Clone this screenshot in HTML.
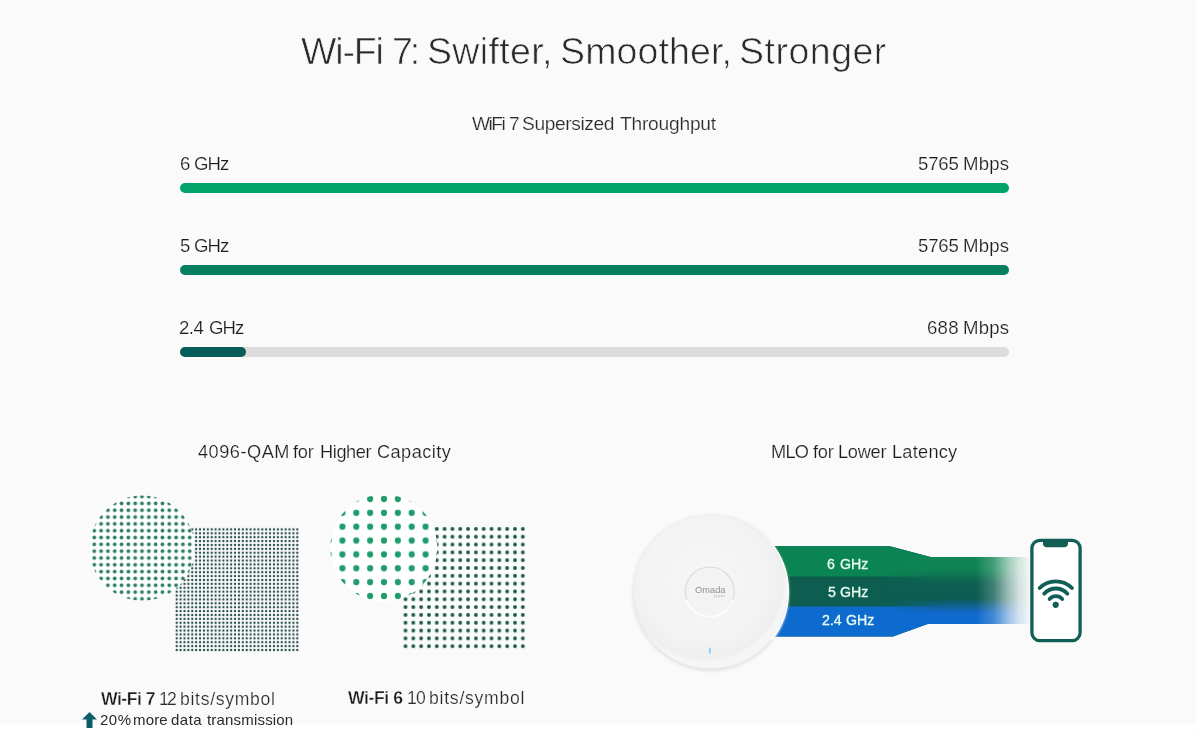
<!DOCTYPE html>
<html><head><meta charset="utf-8">
<style>
html,body{margin:0;padding:0}
body{width:1198px;height:736px;overflow:hidden;background:#fafafa;position:relative;font-family:"Liberation Sans",sans-serif;color:#222}
.abs{position:absolute}
.t{position:absolute;white-space:nowrap;line-height:1;will-change:transform}
.bl{-webkit-text-stroke:0.3px #e8fcf1}
.thin{-webkit-text-stroke:0.7px #fafafa}
.thin2{-webkit-text-stroke:0.2px #fafafa}
.thinb{-webkit-text-stroke:0.3px #fafafa}
.bar{position:absolute;left:180px;width:829px;height:10px;border-radius:5px}
</style></head><body>
<div class="abs" style="left:0;top:724px;width:1198px;height:12px;background:#fff"></div>
<div class="abs" style="left:1196px;top:0;width:2px;height:736px;background:#fdfdfd"></div>
<div class="bar" style="top:183px;background:#02a46b"></div>
<div class="bar" style="top:265px;background:#057f60"></div>
<div class="bar" style="top:347px;background:#dcdcdc"></div>
<div class="bar" style="top:347px;width:66px;background:#065c58"></div>
<svg class="abs" width="1198" height="736" viewBox="0 0 1198 736" style="left:0;top:0">
<defs>
<pattern id="p7s" patternUnits="userSpaceOnUse" x="174.755" y="527.455" width="3.89" height="3.89"><circle cx="1.945" cy="1.945" r="1.15" fill="#214d47"/></pattern>
<pattern id="p7c" patternUnits="userSpaceOnUse" x="90.850" y="493.190" width="6.82" height="6.82"><circle cx="3.41" cy="3.41" r="1.9" fill="#2f8062"/></pattern>
<pattern id="p6s" patternUnits="userSpaceOnUse" x="401.59" y="524.99" width="7.82" height="7.82"><circle cx="3.91" cy="3.91" r="1.9" fill="#1a574b"/></pattern>
<pattern id="p6c" patternUnits="userSpaceOnUse" x="321.630" y="492.060" width="13.86" height="13.86"><circle cx="6.93" cy="6.93" r="3.1" fill="#1f9c6c"/></pattern>
</defs>
<rect x="174.755" y="527.455" width="124.48" height="124.48" fill="url(#p7s)"/>
<circle cx="142.2" cy="548.2" r="52.6" fill="#fff"/>
<circle cx="142.2" cy="548.2" r="52.6" fill="url(#p7c)"/>
<rect x="401.59" y="524.99" width="125.12" height="125.12" fill="url(#p6s)"/>
<circle cx="383.8" cy="547.9" r="53.5" fill="#fff"/>
<circle cx="383.8" cy="547.9" r="53.5" fill="url(#p6c)"/>
</svg>
<svg class="abs" style="left:82px;top:712px" width="15" height="16" viewBox="0 0 15 16"><path d="M7.5 0 L15 7.5 L10.5 7.5 L10.5 16 L4.5 16 L4.5 7.5 L0 7.5 Z" fill="#0e5c68"/></svg>
<svg class="abs" width="1198" height="736" viewBox="0 0 1198 736" style="left:0;top:0;will-change:transform">
<defs>
<linearGradient id="fade" gradientUnits="userSpaceOnUse" x1="976" y1="0" x2="1030" y2="0">
<stop offset="0" stop-color="#fff" stop-opacity="1"/><stop offset="0.33" stop-color="#fff" stop-opacity="0.78"/><stop offset="0.58" stop-color="#fff" stop-opacity="0.42"/><stop offset="0.8" stop-color="#fff" stop-opacity="0.16"/><stop offset="1" stop-color="#fff" stop-opacity="0.03"/>
</linearGradient>
<mask id="fm" maskUnits="userSpaceOnUse" x="0" y="0" width="1198" height="736"><rect x="760" y="530" width="280" height="120" fill="url(#fade)"/></mask>
<linearGradient id="vg" gradientUnits="userSpaceOnUse" x1="0" y1="557.3" x2="0" y2="624">
<stop offset="0" stop-color="#0f8655"/><stop offset="0.18" stop-color="#0f8254"/><stop offset="0.38" stop-color="#0d6151"/><stop offset="0.62" stop-color="#0c5b52"/><stop offset="0.84" stop-color="#1169cc"/><stop offset="1" stop-color="#0d6bcf"/>
</linearGradient>
<linearGradient id="hg" gradientUnits="userSpaceOnUse" x1="880" y1="0" x2="945" y2="0">
<stop offset="0" stop-color="#fff" stop-opacity="0"/><stop offset="1" stop-color="#fff" stop-opacity="1"/>
</linearGradient>
<mask id="hm" maskUnits="userSpaceOnUse" x="0" y="0" width="1198" height="736"><rect x="870" y="540" width="170" height="100" fill="url(#hg)"/></mask>
<radialGradient id="apg" cx="0.5" cy="0.45" r="0.55">
<stop offset="0" stop-color="#fbfbfb"/><stop offset="0.85" stop-color="#f3f3f3"/><stop offset="1" stop-color="#ececec"/>
</radialGradient>
<radialGradient id="apg2" gradientUnits="userSpaceOnUse" cx="705" cy="580" r="82">
<stop offset="0" stop-color="#f6f6f6"/><stop offset="0.75" stop-color="#f3f3f3"/><stop offset="0.95" stop-color="#efefef"/><stop offset="1" stop-color="#f5f5f5"/>
</radialGradient>
<filter id="apblur" x="-20%" y="-20%" width="140%" height="140%"><feGaussianBlur stdDeviation="1.8"/></filter>
</defs>
<g mask="url(#fm)">
<path d="M760 546.3 H890 L931.5 557.3 H1030 V624 H927.7 L893 636.4 H760 Z" fill="#0d5e50"/>
<path d="M760 546.3 H890 L931.5 557.3 H1030 V576.6 H760 Z" fill="#0b8453"/>
<path d="M760 606.4 H1030 V624 H927.7 L893 636.4 H760 Z" fill="#0d6bcf"/>
<rect x="875" y="557.3" width="155" height="66.7" fill="url(#vg)" mask="url(#hm)"/>
</g>
<circle cx="710.5" cy="593" r="78.2" fill="#e4e4e4" filter="url(#apblur)"/>
<circle cx="710.5" cy="591.8" r="76.8" fill="url(#apg2)"/>
<path d="M770.84 543 A77.6 77.6 0 0 1 771.32 640" fill="none" stroke="#fbfbfb" stroke-width="2"/>
<circle cx="709.8" cy="591.6" r="24.5" fill="#f3f3f3"/>
<path d="M686.8 600 A24.5 24.5 0 1 1 732.8 600" fill="none" stroke="#d9d9d9" stroke-width="1.1" stroke-linecap="round"/>
<path d="M732.8 600.5 A24.5 24.5 0 0 1 686.8 600.5" fill="none" stroke="#fdfdfd" stroke-width="1.8" stroke-linecap="round"/>
<text x="710.3" y="592.6" font-family="Liberation Sans" font-size="9.3" fill="#909090" text-anchor="middle">Omada</text>
<text x="719.5" y="596.8" font-family="Liberation Sans" font-size="2.6" fill="#b0b0b0" text-anchor="middle">by tp-link</text>
<rect x="708.9" y="647.5" width="1.8" height="6.5" rx="0.9" fill="#86cff0"/>
<rect x="1031.9" y="540.3" width="48.2" height="100.4" rx="8" fill="#fff" stroke="#105e55" stroke-width="3.3"/>
<path d="M1043 540 H1068 V543.5 Q1068 547.3 1064 547.3 H1047 Q1043 547.3 1043 543.5 Z" fill="#105e55"/>
<g fill="none" stroke="#105e55" stroke-width="3.8" stroke-linecap="round">
<path d="M1039.6 588 A23 23 0 0 1 1072 588"/>
<path d="M1044.2 593.7 A15.5 15.5 0 0 1 1067.4 593.7"/>
<path d="M1049.6 599 A8.5 8.5 0 0 1 1062.2 599"/>
</g>
<circle cx="1055.7" cy="604.8" r="3.1" fill="#105e55"/>
</svg>
<div class="t thin" id="tw1" style="left:301.20px;top:32.6px;font-size:37.5px;color:#2a2a2a;letter-spacing:-1.125px">Wi-Fi</div>
<div class="t thin" id="tw2" style="left:392.00px;top:32.6px;font-size:37.5px;color:#2a2a2a;letter-spacing:-3.000px">7:</div>
<div class="t thin" id="tw3" style="left:427.20px;top:32.6px;font-size:37.5px;color:#2a2a2a;letter-spacing:0.357px">Swifter,</div>
<div class="t thin" id="tw4" style="left:560.00px;top:32.6px;font-size:37.5px;color:#2a2a2a;letter-spacing:0.125px">Smoother,</div>
<div class="t thin" id="tw5" style="left:739.00px;top:32.6px;font-size:37.5px;color:#2a2a2a;letter-spacing:0.500px">Stronger</div>
<div class="t thin2" id="s1a" style="left:471.80px;top:113.6px;font-size:19.2px;color:#2a2a2a;letter-spacing:-1.500px">WiFi</div>
<div class="t thin2" id="s1b" style="left:508.80px;top:113.6px;font-size:19.2px;color:#2a2a2a;letter-spacing:0.000px">7</div>
<div class="t thin2" id="s2" style="left:521.60px;top:113.6px;font-size:19.2px;color:#2a2a2a;letter-spacing:-0.389px">Supersized</div>
<div class="t thin2" id="s3" style="left:619.80px;top:113.6px;font-size:19.2px;color:#2a2a2a;letter-spacing:-0.222px">Throughput</div>
<div class="t thin2" id="l1a" style="left:179.60px;top:154.8px;font-size:18.6px;color:#1c1c1c;letter-spacing:0.000px">6</div>
<div class="t thin2" id="l1b" style="left:194.00px;top:154.8px;font-size:18.6px;color:#1c1c1c;letter-spacing:-1.000px">GHz</div>
<div class="t thin2" id="r1a" style="left:918.20px;top:154.8px;font-size:18.6px;color:#1c1c1c;letter-spacing:-0.167px">5765</div>
<div class="t thin2" id="r1b" style="left:963.20px;top:154.8px;font-size:18.6px;color:#1c1c1c;letter-spacing:0.167px">Mbps</div>
<div class="t thin2" id="l2a" style="left:179.60px;top:236.8px;font-size:18.6px;color:#1c1c1c;letter-spacing:0.000px">5</div>
<div class="t thin2" id="l2b" style="left:194.00px;top:236.8px;font-size:18.6px;color:#1c1c1c;letter-spacing:-1.000px">GHz</div>
<div class="t thin2" id="r2a" style="left:918.20px;top:236.8px;font-size:18.6px;color:#1c1c1c;letter-spacing:-0.167px">5765</div>
<div class="t thin2" id="r2b" style="left:963.20px;top:236.8px;font-size:18.6px;color:#1c1c1c;letter-spacing:0.167px">Mbps</div>
<div class="t thin2" id="l3a" style="left:179.40px;top:318.8px;font-size:18.6px;color:#1c1c1c;letter-spacing:-0.500px">2.4</div>
<div class="t thin2" id="l3b" style="left:208.60px;top:318.8px;font-size:18.6px;color:#1c1c1c;letter-spacing:-1.000px">GHz</div>
<div class="t thin2" id="r3a" style="left:927.40px;top:318.8px;font-size:18.6px;color:#1c1c1c;letter-spacing:0.250px">688</div>
<div class="t thin2" id="r3b" style="left:963.20px;top:318.8px;font-size:18.6px;color:#1c1c1c;letter-spacing:0.167px">Mbps</div>
<div class="t thin2" id="h1a" style="left:197.80px;top:442.9px;font-size:18.2px;color:#1c1c1c;letter-spacing:0.499px">4096-QAM</div>
<div class="t thin2" id="h1b" style="left:293.20px;top:442.9px;font-size:18.2px;color:#1c1c1c;letter-spacing:-0.250px">for</div>
<div class="t thin2" id="h1c" style="left:320.40px;top:442.9px;font-size:18.2px;color:#1c1c1c;letter-spacing:-0.400px">Higher</div>
<div class="t thin2" id="h1d" style="left:376.60px;top:442.9px;font-size:18.2px;color:#1c1c1c;letter-spacing:0.429px">Capacity</div>
<div class="t thin2" id="h2a" style="left:770.80px;top:442.9px;font-size:18.2px;color:#1c1c1c;letter-spacing:-0.750px">MLO</div>
<div class="t thin2" id="h2b" style="left:813.00px;top:442.9px;font-size:18.2px;color:#1c1c1c;letter-spacing:-0.250px">for</div>
<div class="t thin2" id="h2c" style="left:838.20px;top:442.9px;font-size:18.2px;color:#1c1c1c;letter-spacing:-0.250px">Lower</div>
<div class="t thin2" id="h2d" style="left:892.40px;top:442.9px;font-size:18.2px;color:#1c1c1c;letter-spacing:0.250px">Latency</div>
<div class="t thinb" id="w7a" style="left:100.80px;top:690.6px;font-size:17.6px;color:#1c1c1c;letter-spacing:-0.500px;font-weight:700">Wi-Fi 7</div>
<div class="t thin2" id="w7b1" style="left:159.00px;top:690.6px;font-size:17.6px;color:#2a2a2a;letter-spacing:0.000px">1</div>
<div class="t thin2" id="w7b2" style="left:167.40px;top:690.6px;font-size:17.6px;color:#2a2a2a;letter-spacing:0.000px">2</div>
<div class="t thin2" id="w7c" style="left:180.00px;top:690.6px;font-size:17.6px;color:#2a2a2a;letter-spacing:0.700px">bits/symbol</div>
<div class="t" id="m1" style="left:99.80px;top:712.0px;font-size:15px;color:#2a2a2a;letter-spacing:0.500px">20%</div>
<div class="t" id="m2" style="left:133.40px;top:712.0px;font-size:15px;color:#2a2a2a;letter-spacing:0.167px">more</div>
<div class="t" id="m3" style="left:171.20px;top:712.0px;font-size:15px;color:#2a2a2a;letter-spacing:0.500px">data</div>
<div class="t" id="m4" style="left:207.40px;top:712.0px;font-size:15px;color:#2a2a2a;letter-spacing:0.182px">transmission</div>
<div class="t thinb" id="w6a" style="left:348.20px;top:690.2px;font-size:17.6px;color:#1c1c1c;letter-spacing:-0.417px;font-weight:700">Wi-Fi 6</div>
<div class="t thin2" id="w6b1" style="left:407.40px;top:690.2px;font-size:17.6px;color:#2a2a2a;letter-spacing:0.000px">1</div>
<div class="t thin2" id="w6b2" style="left:416.00px;top:690.2px;font-size:17.6px;color:#2a2a2a;letter-spacing:0.000px">0</div>
<div class="t thin2" id="w6c" style="left:429.20px;top:690.2px;font-size:17.6px;color:#2a2a2a;letter-spacing:0.750px">bits/symbol</div>
<div class="t bl" id="b6a" style="left:827.30px;top:557.2px;font-size:14.2px;color:#e8fcf1;letter-spacing:0.000px">6</div>
<div class="t bl" id="b6b" style="left:840.00px;top:557.2px;font-size:14.2px;color:#e8fcf1;letter-spacing:-0.000px">GHz</div>
<div class="t bl" id="b5a" style="left:828.30px;top:584.8px;font-size:14.2px;color:#e8fcf1;letter-spacing:0.000px">5</div>
<div class="t bl" id="b5b" style="left:840.20px;top:584.8px;font-size:14.2px;color:#e8fcf1;letter-spacing:-0.000px">GHz</div>
<div class="t bl" id="b24a" style="left:822.40px;top:613.4px;font-size:14.2px;color:#e8fcf1;letter-spacing:0.000px">2.4</div>
<div class="t bl" id="b24b" style="left:846.00px;top:613.4px;font-size:14.2px;color:#e8fcf1;letter-spacing:0.000px">GHz</div>
</body></html>
